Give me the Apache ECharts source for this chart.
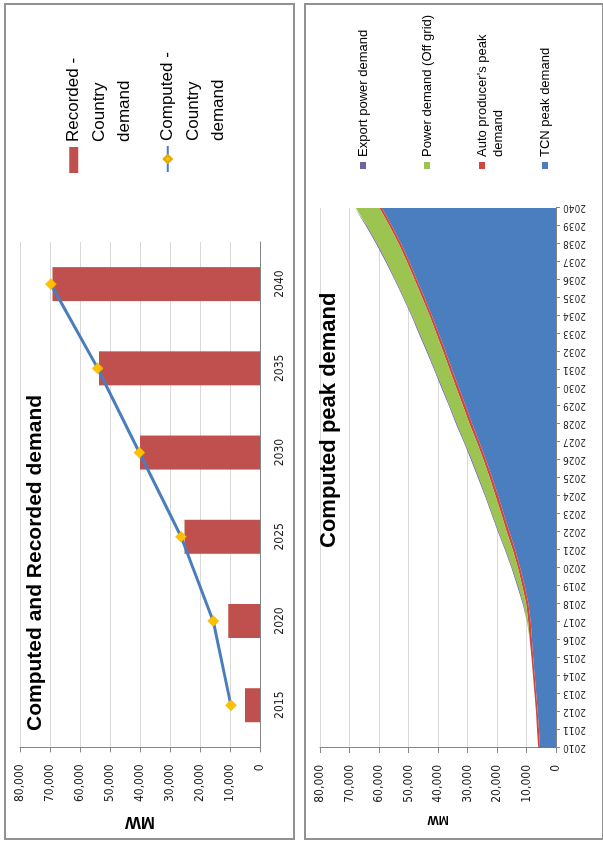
<!DOCTYPE html>
<html>
<head>
<meta charset="utf-8">
<title>Computed demand</title>
<script src="https://cdn.jsdelivr.net/npm/echarts@6/dist/echarts.min.js"></script>
<style>
  html, body { margin: 0; padding: 0; background: #fff; overflow: hidden; }
  /* the figure is printed turned a quarter turn, so draw it upright and turn the page */
  #page { position: absolute; left: 0; top: 0; width: 843px; height: 603px;
          transform-origin: 0 0; transform: translateY(843px) rotate(-90deg); }
  .panel { position: absolute; box-sizing: border-box; border: 2px solid #929292; background: #fff; }
  #p1 { left: 3px; top: 4px; width: 837px; height: 291px; }
  #p2 { left: 3px; top: 304px; width: 837px; height: 300px; }
</style>
</head>
<body>
<div id="page">
  <div id="p1" class="panel"></div>
  <div id="p2" class="panel"></div>
</div>
<script>
// chart 1: computed and recorded demand (MW)
const demandYears = ['2015', '2020', '2025', '2030', '2035', '2040'];
const recordedDemand = [5000, 10600, 25200, 40000, 53700, 69200];
const computedDemand = [9700, 15600, 26300, 40200, 54100, 69700];

// chart 2: computed peak demand, stacked (MW)
const peakYears = ['2010', '2011', '2012', '2013', '2014', '2015', '2016', '2017', '2018', '2019',
  '2020', '2021', '2022', '2023', '2024', '2025', '2026', '2027', '2028', '2029',
  '2030', '2031', '2032', '2033', '2034', '2035', '2036', '2037', '2038', '2039', '2040'];
const tcnPeak = [5400, 5800, 6200, 6700, 7200, 7700, 8100, 8600, 9300, 10600,
  12100, 13800, 15800, 17700, 19600, 21600, 23700, 26000, 28400, 30600,
  32900, 35200, 37400, 39700, 42000, 44500, 47100, 49700, 52500, 55600, 59000];
const autoProducerPeak = [600, 600, 600, 600, 600, 600, 800, 800, 800, 800,
  800, 900, 900, 900, 900, 900, 900, 900, 900, 900,
  900, 800, 800, 800, 800, 800, 800, 800, 800, 800, 800];
const offGridDemand = [0, 0, 0, 0, 0, 0, 0, 400, 900, 1400,
  1900, 2300, 2700, 3000, 3300, 3600, 3900, 4100, 4300, 4500,
  4700, 5000, 5300, 5600, 5900, 6200, 6500, 6900, 7300, 7700, 8100];
const exportDemand = [0, 0, 0, 0, 0, 0, 0, 0, 300, 300,
  300, 300, 300, 300, 300, 300, 300, 300, 300, 300,
  300, 300, 300, 300, 300, 300, 300, 300, 300, 300, 300];

const narrow = '"Liberation Sans Narrow", "DejaVu Sans Condensed", "Liberation Sans", sans-serif';
const sans = '"Liberation Sans", Arial, sans-serif';
const axisGrey = '#868686';
const gridGrey = '#d9d9d9';

// legend labels wrap like the original; the leading blank lines keep
// the key level with the first line of text
const wrapped = {
  'Recorded - Country demand': '\n\nRecorded -\nCountry\ndemand',
  'Computed - Country demand': '\n\nComputed -\nCountry\ndemand',
  "Auto producer's peak demand": "\nAuto producer's peak\ndemand"
};
const wrap = name => wrapped[name] || name;

function valueAxis(nameSize, nameGap, labelSize) {
  return {
    type: 'value', min: 0, max: 80000, interval: 10000,
    name: 'MW', nameLocation: 'middle', nameGap: nameGap,
    nameTextStyle: { fontSize: nameSize, fontWeight: 'bold', color: '#000', fontFamily: sans },
    axisLine: { show: true, lineStyle: { color: axisGrey } },
    axisTick: { show: true, length: 5, lineStyle: { color: axisGrey } },
    axisLabel: { margin: 17, fontSize: labelSize, color: '#222', fontFamily: narrow,
      formatter: v => echarts.format.addCommas(v) },
    splitLine: { lineStyle: { color: gridGrey } }
  };
}

// ---- chart 1
let chart1 = echarts.init(document.getElementById('p1'));
chart1.setOption({
  animation: false,
  title: {
    text: 'Computed and Recorded demand', left: 107, top: 17, padding: 0,
    textStyle: { fontSize: 21, fontWeight: 'bold', color: '#000', fontFamily: sans, lineHeight: 24 }
  },
  legend: [
    { data: ['Recorded - Country demand'], left: 665, top: 4, padding: 0,
      icon: 'rect', itemWidth: 26, itemHeight: 9, formatter: wrap,
      textStyle: { fontSize: 17, lineHeight: 25.5, color: '#000', fontFamily: sans } },
    { data: ['Computed - Country demand'], left: 665, top: 98, padding: 0,
      itemWidth: 26, itemHeight: 10, formatter: wrap,
      textStyle: { fontSize: 17, lineHeight: 25.5, color: '#000', fontFamily: sans } }
  ],
  grid: { left: 88, width: 508, top: 14, height: 240 },
  xAxis: {
    type: 'category', data: demandYears,
    axisLine: { lineStyle: { color: axisGrey } },
    axisTick: { length: 5, lineStyle: { color: axisGrey } },
    axisLabel: { margin: 14, fontSize: 12, color: '#222', fontFamily: narrow }
  },
  yAxis: valueAxis(17, 57, 12),
  series: [
    { name: 'Recorded - Country demand', type: 'bar', data: recordedDemand, barWidth: 34,
      itemStyle: { color: '#c0504d' } },
    { name: 'Computed - Country demand', type: 'line', data: computedDemand,
      symbol: 'diamond', symbolSize: 11,
      lineStyle: { color: '#4a7ebb', width: 3 },
      itemStyle: { color: '#ffc000', borderColor: '#e0a800', borderWidth: 0.5 } }
  ]
});

// ---- chart 2
let chart2 = echarts.init(document.getElementById('p2'));
const legend2 = (name, top) => ({
  data: [name], left: 669, top: top, padding: 0, icon: 'rect', itemWidth: 7, itemHeight: 6,
  formatter: wrap,
  textStyle: { fontSize: 13, lineHeight: 16, color: '#000', fontFamily: sans }
});
const area = (name, data, color) => ({
  name: name, type: 'line', stack: 'peak', data: data, symbol: 'none',
  lineStyle: { width: 0 }, areaStyle: { color: color, opacity: 1 }, itemStyle: { color: color }
});
chart2.setOption({
  animation: false,
  title: {
    text: 'Computed peak demand', left: 290, top: 10, padding: 0,
    textStyle: { fontSize: 22, fontWeight: 'bold', color: '#000', fontFamily: sans, lineHeight: 26 }
  },
  legend: [
    legend2('Export power demand', 49),
    legend2('Power demand (Off grid)', 113),
    legend2("Auto producer's peak demand", 152),
    legend2('TCN peak demand', 231)
  ],
  grid: { left: 90, width: 540, top: 14, height: 236 },
  xAxis: {
    type: 'category', data: peakYears, boundaryGap: false,
    axisLine: { lineStyle: { color: axisGrey } },
    axisTick: { length: 4, lineStyle: { color: axisGrey } },
    axisLabel: { interval: 0, rotate: 90, margin: 7, fontSize: 10, color: '#222', fontFamily: narrow }
  },
  yAxis: valueAxis(12, 63, 12),
  series: [
    area('TCN peak demand', tcnPeak, '#4a7ebe'),
    area("Auto producer's peak demand", autoProducerPeak, '#d2463f'),
    area('Power demand (Off grid)', offGridDemand, '#9bc550'),
    area('Export power demand', exportDemand, '#6f63a0')
  ]
});
</script>
</body>
</html>
